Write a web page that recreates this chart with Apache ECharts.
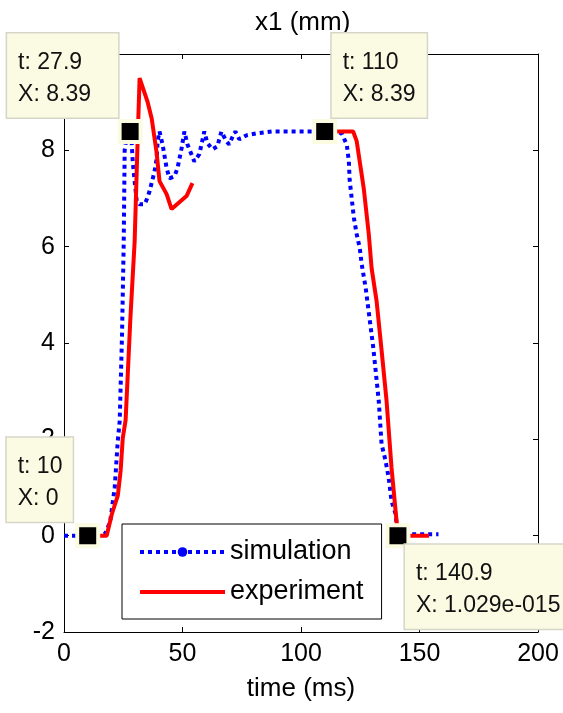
<!DOCTYPE html>
<html>
<head>
<meta charset="utf-8">
<script src="https://cdn.jsdelivr.net/npm/echarts@6/dist/echarts.min.js"></script>
<style>
  html, body { margin: 0; padding: 0; background: #fff; }
  #chart { width: 563px; height: 713px; }
</style>
</head>
<body>
<div id="chart"></div>
<script>
// simulation trace (time ms, x1 mm)
const simT = [0, 5, 10, 15, 17.5, 19.5, 21.4, 22.7, 23.5, 24.5, 25.2, 25.6, 26.5, 27.9, 28.6, 29, 29.8, 30.7, 31.9, 34,
  34.9, 36.1, 38.2, 39.1, 39.5, 40.3, 41.6, 43.3, 44.5, 46.6, 47.9, 49.6, 50.8, 52.1, 55, 57.1, 59.2, 60.5, 62.6, 64.7,
  66.4, 68.5, 69.7, 71, 72.3, 74, 76.9, 81, 87.8, 95, 105, 110, 115, 117.2, 119.3, 120.2, 120.5, 121.4, 122.3, 123.5,
  124.8, 125.6, 127.3, 130.5, 132.8, 134, 135.7, 137, 138.2, 139.9, 140.9, 145, 150, 158]
const simX = [0, 0, 0, 0, 0.05, 0.3, 1.0, 1.97, 2.38, 4.2, 6.1, 8.0, 8.3, 8.39, 8.12, 7.77, 7.36, 6.94, 6.88, 6.88,
  6.98, 7.15, 7.56, 7.83, 8.19, 8.39, 8.12, 7.63, 7.42, 7.46, 7.63, 8.04, 8.39, 8.12, 7.77, 7.92, 8.39, 8.15, 8.02, 8.08,
  8.39, 8.19, 8.12, 8.27, 8.39, 8.23, 8.31, 8.35, 8.39, 8.39, 8.39, 8.39, 8.39, 8.35, 8.12, 7.77, 7.4, 7.0, 6.6, 6.26,
  5.97, 5.64, 5.14, 3.9, 2.8, 1.9, 1.55, 1.2, 0.72, 0.45, 0, 0.03, 0.03, 0.03]

// experiment trace, null = gap in the recording
const expT = [15, 18, 20.2, 22.7, 23.9, 24.8, 26, 28, 29.8, 31, 31.9, 35.3, 37, 39, 40.3, 43.3, 45.4, 51.7, 54.2,
  80, 110, 122, 123.5, 125.2, 126.5, 128.6, 129.8, 131.9, 134, 136.1, 138.2, 140.3, 140.9, 154]
const expX = [0, 0, 0.45, 0.83, 1.35, 2.03, 2.4, 4.5, 6.1, 8.1, 9.5, 9.0, 8.66, 7.98, 7.36, 7.09, 6.78, 7.05, 7.32,
  null, 8.39, 8.39, 8.19, 7.63, 7.2, 6.26, 5.55, 4.87, 3.85, 2.8, 1.41, 0.31, 0, 0]

// data tips
const tipT = [10, 27.9, 110, 140.9]
const tipX = [0, 8.39, 8.39, 1.029e-15]

const font = 'Liberation Sans, Arial, sans-serif'

// where each tip box sits next to its marker (left edge / top or bottom edge)
const tipLayout = [
  { position: [-68.5, -1.5], verticalAlign: 'bottom', width: 55 },
  { position: [-110.5, -1.5], verticalAlign: 'bottom', width: 100 },
  { position: [19.5, -1.5], verticalAlign: 'bottom', width: 84 },
  { position: [19.5, 21.5], verticalAlign: 'top', width: 152 },
]

// matlab style number text
const fmtX = (v) => {
  if (v === 0) return '0'
  if (Math.abs(v) < 1e-4) {
    return v.toExponential(3).replace(/e([+-])(\d+)$/, (m, s, d) => 'e' + s + d.padStart(3, '0'))
  }
  return String(v)
}

const chart = echarts.init(document.getElementById('chart'))

const axisCommon = {
  axisLine: { show: true, onZero: false, lineStyle: { color: '#000', width: 1 } },
  axisTick: { show: true, inside: true, length: 5, lineStyle: { color: '#000' } },
  splitLine: { show: false },
}

const simLine = { color: '#0000ff', width: 4, type: [4, 4] }

const option = {
  animation: false,
  title: {
    text: 'x1 (mm)',
    left: 250,
    top: 5,
    textStyle: { fontSize: 26, fontWeight: 'normal', color: '#000', fontFamily: font },
  },
  grid: { left: 64, right: 25, top: 54, bottom: 81 },
  legend: {
    orient: 'vertical',
    left: 122,
    top: 524,
    padding: [13, 18, 12, 16],
    itemWidth: 85,
    itemHeight: 12,
    itemGap: 10,
    backgroundColor: '#fff',
    borderColor: '#000',
    borderWidth: 1,
    textStyle: { fontSize: 27, color: '#000', fontFamily: font, lineHeight: 30 },
    data: [
      { name: 'simulation', lineStyle: simLine },
      { name: 'experiment', icon: 'path://M0,0H85V4H0Z' },
    ],
  },
  xAxis: [
    {
      ...axisCommon,
      type: 'value',
      min: 0,
      max: 200,
      interval: 50,
      position: 'bottom',
      axisLabel: { fontSize: 25, color: '#000', margin: 10, fontFamily: font },
      name: 'time (ms)',
      nameLocation: 'middle',
      nameGap: 44,
      nameTextStyle: { fontSize: 26, color: '#000', fontFamily: font },
    },
    {
      ...axisCommon,
      type: 'value',
      min: 0,
      max: 200,
      interval: 50,
      position: 'top',
      axisLabel: { show: false },
    },
  ],
  yAxis: [
    {
      ...axisCommon,
      type: 'value',
      min: -2,
      max: 10,
      interval: 2,
      position: 'left',
      axisLabel: { fontSize: 25, color: '#000', margin: 9, fontFamily: font },
    },
    {
      ...axisCommon,
      type: 'value',
      min: -2,
      max: 10,
      interval: 2,
      position: 'right',
      axisLabel: { show: false },
    },
  ],
  series: [
    {
      name: 'simulation',
      type: 'line',
      data: simT.map((t, i) => [t, simX[i]]),
      symbol: 'circle',
      showSymbol: false,
      lineStyle: simLine,
      itemStyle: { color: '#0000ff' },
      z: 2,
    },
    {
      name: 'experiment',
      type: 'line',
      data: expT.map((t, i) => [t, expX[i] === null ? '-' : expX[i]]),
      symbol: 'none',
      connectNulls: false,
      lineStyle: { color: '#ff0000', width: 4 },
      itemStyle: { color: '#ff0000' },
      z: 3,
    },
    {
      name: 'tips',
      type: 'scatter',
      silent: true,
      symbol: 'rect',
      symbolSize: 21,
      itemStyle: { color: '#000', borderColor: '#fbfbe1', borderWidth: 4, opacity: 1 },
      z: 6,
      label: {
        show: true,
        formatter: (p) => 't: ' + tipT[p.dataIndex] + '\nX: ' + fmtX(tipX[p.dataIndex]),
        align: 'left',
        fontSize: 23,
        lineHeight: 32,
        color: '#111',
        fontFamily: font,
        backgroundColor: '#fbfbe3',
        borderColor: '#d6d6c8',
        borderWidth: 1.5,
        padding: [13, 0, 7, 11],
      },
      data: tipT.map((t, i) => ({
        value: [t, tipX[i]],
        label: tipLayout[i],
      })),
    },
  ],
}

chart.setOption(option)
</script>
</body>
</html>
